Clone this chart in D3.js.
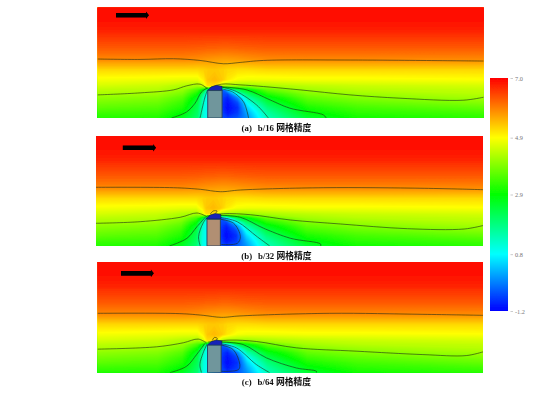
<!DOCTYPE html>
<html>
<head>
<meta charset="utf-8">
<script src="https://cdn.jsdelivr.net/npm/d3@7"></script>
<style>
html, body { margin: 0; padding: 0; background: #fff; }
svg { display: block; }
</style>
</head>
<body>
<svg></svg>
<script>
//sampling columns and rows of the velocity field, in plot units
const fieldX = [0, 60, 85, 100, 106, 110, 117, 125, 130, 140, 150, 170, 210, 260, 386];
const fieldH = [110, 96, 85, 70, 58, 48, 38, 32, 28, 24, 20, 15, 10, 5, 0];

//velocity, one row per fieldH entry
const fieldValues = [
    6.95, 6.95, 6.95, 6.95, 6.95, 6.95, 6.95, 6.95, 6.95, 6.95, 6.95, 6.95, 6.95, 6.95, 6.95,
    6.9, 6.9, 6.9, 6.9, 6.9, 6.9, 6.9, 6.9, 6.9, 6.9, 6.9, 6.9, 6.9, 6.9, 6.9,
    6.7, 6.7, 6.7, 6.7, 6.7, 6.7, 6.7, 6.7, 6.7, 6.7, 6.7, 6.7, 6.7, 6.7, 6.7,
    6.3, 6.3, 6.3, 6.28, 6.27, 6.25, 6.25, 6.22, 6.22, 6.25, 6.27, 6.3, 6.3, 6.3, 6.3,
    5.9, 5.9, 5.9, 5.85, 5.8, 5.78, 5.75, 5.72, 5.72, 5.75, 5.8, 5.88, 5.9, 5.9, 5.88,
    5.25, 5.25, 5.25, 5.25, 5.3, 5.35, 5.38, 5.32, 5.25, 5.2, 5.2, 5.25, 5.25, 5.25, 5.25,
    4.85, 4.8, 4.75, 4.75, 5.05, 5.4, 5.5, 5.35, 5.1, 4.85, 4.8, 4.8, 4.85, 4.85, 4.9,
    4.6, 4.5, 4.3, 4.2, 4.6, 5.2, 5.2, 4.3, 4.2, 4.15, 4.1, 4.25, 4.4, 4.5, 4.6,
    4.4, 4.35, 4.1, 3.5, 2.7, 1.4, 0.2, -0.4, 0.4, 2.2, 2.8, 3.7, 4.2, 4.35, 4.45,
    4.25, 4.15, 3.85, 3.0, 1.7, 0.9, 0, -0.6, -0.6, 0.9, 2.1, 3.2, 3.95, 4.15, 4.35,
    4.05, 3.95, 3.6, 2.6, 1.3, 0.9, 0, -0.7, -0.9, -0.1, 1.5, 2.7, 3.7, 3.95, 4.2,
    3.85, 3.75, 3.35, 2.35, 1.2, 0.9, 0, -0.8, -1.05, -0.6, 0.9, 2.3, 3.4, 3.7, 3.95,
    3.65, 3.55, 3.15, 2.2, 1.15, 0.9, 0, -0.8, -1.1, -0.8, 0.5, 1.9, 3.1, 3.45, 3.7,
    3.4, 3.35, 2.9, 2.1, 1.1, 0.9, 0, -0.7, -1.0, -0.7, 0.2, 1.6, 2.8, 3.25, 3.45,
    3.2, 3.15, 2.65, 2.0, 1.05, 0.9, 0, -0.6, -0.7, -0.5, 0, 1.4, 2.5, 3.05, 3.25
];

//colour bar
const barValues = [7.0, 4.9, 2.9, 0.8, -1.2];
const barColors = ["#ff0000", "#ffff00", "#00ff00", "#00ffff", "#0000ff"];

//captions
const captionTags = ["(a)", "(b)", "(c)"];
const captionTexts = ["b/16 网格精度", "b/32 网格精度", "b/64 网格精度"];

//contour lines, [x, height] in plot units
const linesA = [
    [[0, 58.7], [42.5, 58.3], [76, 59], [102.5, 57.3], [126, 54], [142.5, 55.3], [166, 57.3], [252.5, 57.7], [386, 56.7]],
    [[0, 23], [42.5, 25], [76, 28], [89, 32], [102.5, 33.7], [110, 29]],
    [[112, 30], [124, 33.7], [142.5, 33], [166, 31.3], [202.5, 28], [252.5, 23], [302.5, 19.7], [365.5, 17.7], [386, 20.7]],
    [[74, 0], [89, 6], [97.5, 14.7], [104, 26], [110, 30]],
    [[102.5, 0], [107.5, 21], [110, 28]],
    [[124, 31], [149, 28], [172.5, 18], [192.5, 9.7], [226, 3], [228.5, 0]],
    [[125, 30.7], [139, 26.3], [159, 13], [170.8, 0]],
    [[125, 28.7], [135, 26], [146, 16], [151, 0]]
];
const linesB = [
    [[0, 58.7], [77.3, 58.3], [104, 56.7], [124, 54.3], [144, 56], [227.3, 58.3], [327.3, 57.7], [387, 56.3]],
    [[0, 22.7], [44, 24.3], [84, 28.7], [100.7, 33], [110.7, 29.3]],
    [[110.7, 30], [127.3, 32.3], [154, 31.3], [194, 26], [244, 22], [310.7, 17.3], [367.3, 17], [387, 20.7]],
    [[73.3, 0], [90.7, 7.7], [100.7, 19.3], [109, 28.7]],
    [[104, 0], [102.3, 9.3], [106.7, 22.7], [110.7, 28.7]],
    [[124, 30.7], [144, 28.7], [167.3, 17.7], [194, 7.7], [224, 2], [224, 0]],
    [[124, 28.7], [140.7, 24.3], [160.7, 9.3], [173.3, 0]],
    [[124, 26.7], [137.3, 22.7], [144, 9.3], [141, 2.7], [125, 1.5]],
    [[114, 32], [117, 35], [120.7, 35], [119, 32.5]]
];
const linesC = [
    [[0, 59], [82.5, 58.7], [105.8, 57], [124, 55], [142.5, 56.4], [232.5, 59], [325.8, 58], [386, 57]],
    [[0, 23.4], [59, 25.7], [85.8, 29.7], [100.8, 33.4], [109, 29.7]],
    [[110.8, 30.4], [132.5, 32.4], [159.2, 31], [199.2, 24.7], [259, 21.4], [325.8, 18], [369.2, 17], [386, 20.7]],
    [[72.5, 0], [89.2, 6.4], [99.2, 18], [107.5, 29]],
    [[104.2, 0], [102.5, 8], [105.8, 19.7], [109.8, 28.7]],
    [[124, 30.4], [145.8, 28], [169.2, 14.7], [199.2, 4.7], [219.2, 1.4], [219.2, 0]],
    [[124, 28.7], [139, 24.7], [159.2, 8], [172.5, 0]],
    [[124, 27.4], [135.8, 23], [142.5, 8], [141, 3], [124, 1.4]],
    [[115, 32], [117, 35], [120, 34], [119, 32.5]]
];
const panelLines = [linesA, linesB, linesC];

//building and the low pressure cap on its roof, in plot units
const buildingX = [[110.2, 124.5], [110.7, 124], [110.2, 123.8]];
const buildingTop = [27.3, 26.7, 27.4];
const buildingColors = ["#6f969c", "#b18f73", "#6f969c"];
const capOutline = [[110, 27], [110.5, 28], [114, 31], [119, 32.5], [124.5, 31.5], [124.5, 27]];

//wind arrows, [x start, x end, height]
const arrows = [[18.5, 51.5, 102.3], [26.7, 60, 98.3], [23.5, 56.5, 98.7]];

drawChart();

function drawChart() {
    var svgWidth = 554, svgHeight = 393;

    //pixel boxes of the three plots
    var boxes = [
        { left: 97.5, right: 483.7, top: 7.5, bottom: 118, captionY: 131 },
        { left: 96, right: 483, top: 136, bottom: 246, captionY: 258.5 },
        { left: 97.5, right: 483, top: 262, bottom: 372.7, captionY: 384.5 }
    ];

    var svg = d3.select("svg")
        .attr("width", svgWidth)
        .attr("height", svgHeight);

    var defs = svg.append("defs");
    defs.append("filter")
        .attr("id", "soft")
        .append("feGaussianBlur")
        .attr("stdDeviation", 0.7);
    defs.append("filter")
        .attr("id", "softText")
        .append("feGaussianBlur")
        .attr("stdDeviation", 0.3);

    var color = d3.scaleLinear()
        .domain(barValues)
        .range(barColors)
        .clamp(true);

    boxes.forEach(function(box, i) {
        drawPanel(svg, defs, box, i, color);
    });

    drawColorBar(svg, defs);
}

function drawPanel(svg, defs, box, i, color) {
    var x = d3.scaleLinear().domain([0, 386]).range([box.left, box.right]);
    var y = d3.scaleLinear().domain([0, 110]).range([box.bottom, box.top]);

    //grid cell centres to plot units, the grid is not evenly spaced
    var col = d3.scaleLinear()
        .domain(fieldX.map(function(d, k) { return k + 0.5; }))
        .range(fieldX)
        .clamp(true);
    var row = d3.scaleLinear()
        .domain(fieldH.map(function(d, k) { return k + 0.5; }))
        .range(fieldH)
        .clamp(true);

    var gridPath = d3.geoPath(d3.geoTransform({
        point: function(px, py) { this.stream.point(x(col(px)), y(row(py))); }
    }));

    var contours = d3.contours()
        .size([fieldX.length, fieldH.length])
        .thresholds(d3.range(-1.2, 7.0, 0.05));

    var clipId = "clip" + i;
    defs.append("clipPath")
        .attr("id", clipId)
        .append("rect")
        .attr("x", box.left)
        .attr("y", box.top)
        .attr("width", box.right - box.left)
        .attr("height", box.bottom - box.top);

    var outer = svg.append("g").attr("filter", "url(#soft)");
    var g = outer.append("g").attr("clip-path", "url(#" + clipId + ")");

    //filled bands
    g.append("rect")
        .attr("x", box.left)
        .attr("y", box.top)
        .attr("width", box.right - box.left)
        .attr("height", box.bottom - box.top)
        .attr("fill", color(-1.2));

    g.selectAll("path.band")
        .data(contours(fieldValues))
        .enter().append("path")
        .attr("class", "band")
        .attr("d", gridPath)
        .attr("fill", function(d) { return color(d.value); });

    //contour lines
    var line = d3.line()
        .x(function(d) { return x(d[0]); })
        .y(function(d) { return y(d[1]); })
        .curve(d3.curveCatmullRom.alpha(0.5));

    g.selectAll("path.iso")
        .data(panelLines[i])
        .enter().append("path")
        .attr("class", "iso")
        .attr("d", line)
        .attr("fill", "none")
        .attr("stroke", "#1f2c12")
        .attr("stroke-opacity", 0.75)
        .attr("stroke-width", 0.8);

    //cap on the roof
    g.append("path")
        .datum(capOutline)
        .attr("d", d3.line()
            .x(function(d) { return x(d[0]); })
            .y(function(d) { return y(d[1]); })
            .curve(d3.curveLinearClosed))
        .attr("fill", "#1420b8")
        .attr("stroke", "#10204a")
        .attr("stroke-width", 0.6);

    //building
    g.append("rect")
        .attr("x", x(buildingX[i][0]))
        .attr("y", y(buildingTop[i]))
        .attr("width", x(buildingX[i][1]) - x(buildingX[i][0]))
        .attr("height", y(0) - y(buildingTop[i]))
        .attr("fill", buildingColors[i])
        .attr("stroke", "#23405e")
        .attr("stroke-width", 0.9);

    //wind arrow
    var a = arrows[i];
    var arrowLine = d3.line();
    g.append("path")
        .attr("d", arrowLine([[x(a[0]), y(a[2]) - 2.3], [x(a[1]) - 3, y(a[2]) - 2.3], [x(a[1]) - 3, y(a[2]) - 3.8],
            [x(a[1]), y(a[2])], [x(a[1]) - 3, y(a[2]) + 3.8], [x(a[1]) - 3, y(a[2]) + 2.3], [x(a[0]), y(a[2]) + 2.3]]) + "Z")
        .attr("fill", "#000");

    //caption
    var caption = svg.append("text")
        .attr("x", 276.5)
        .attr("y", box.captionY)
        .attr("text-anchor", "middle")
        .attr("font-family", "'Liberation Serif', 'Noto Sans CJK SC', serif")
        .attr("font-weight", "bold")
        .attr("font-size", 8.8)
        .attr("fill", "#111")
        .attr("filter", "url(#softText)");
    caption.append("tspan").text(captionTags[i]);
    caption.append("tspan").attr("dx", 6).text(captionTexts[i]);
}

function drawColorBar(svg, defs) {
    var barLeft = 490, barWidth = 18;
    var scale = d3.scaleLinear().domain([-1.2, 7.0]).range([311, 78]);

    var gradient = defs.append("linearGradient")
        .attr("id", "barGradient")
        .attr("x1", 0).attr("x2", 0)
        .attr("y1", 0).attr("y2", 1);
    gradient.selectAll("stop")
        .data(barValues)
        .enter().append("stop")
        .attr("offset", function(d) { return (scale(d) - 78) / 233; })
        .attr("stop-color", function(d, i) { return barColors[i]; });

    svg.append("rect")
        .attr("x", barLeft)
        .attr("y", 78)
        .attr("width", barWidth)
        .attr("height", 233)
        .attr("fill", "url(#barGradient)")
        .attr("filter", "url(#soft)");

    var axis = d3.axisRight(scale)
        .tickValues(barValues)
        .tickSize(2.5)
        .tickPadding(2)
        .tickFormat(function(d) { return d.toFixed(1); });

    var g = svg.append("g")
        .attr("transform", "translate(510.5,0)")
        .call(axis);
    g.select(".domain").remove();
    g.selectAll("line").attr("stroke", "#aaa").attr("stroke-width", 0.6);
    g.selectAll("text")
        .attr("fill", "#777")
        .attr("font-family", "'Liberation Serif', serif")
        .attr("font-size", 6.3);
}
</script>
</body>
</html>
